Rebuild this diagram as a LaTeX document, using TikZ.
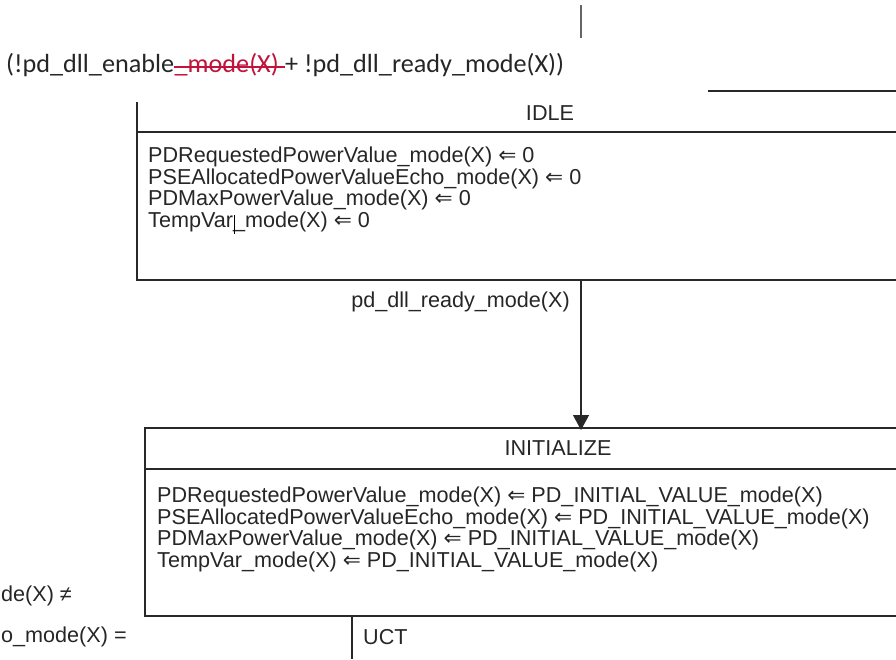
\documentclass[tikz,border=0pt]{standalone}
\usepackage{fontspec}
\setmainfont{Liberation Sans}
\newfontfamily\calibfont{Carlito}
\newfontfamily\arrowfont{DejaVu Sans}
\usetikzlibrary{arrows.meta}

\definecolor{strikered}{RGB}{192,20,60}
\definecolor{edgegray}{RGB}{40,40,40}
\newcommand{\getsfrom}{{\arrowfont ⇐}}

\begin{document}
\begin{tikzpicture}[x=1pt, y=-1pt, >={Triangle[length=15pt,width=16pt]},
  every node/.style={inner sep=0pt, text=black!85, font=\fontsize{21.6}{21.5}\selectfont},
  edge/.style={draw=edgegray, line width=1.2pt},
  guardtext/.style={anchor=base west, font=\calibfont\fontsize{26.2}{28}\selectfont},
  title/.style={anchor=base},
  body/.style={anchor=north west, align=left},
  cond/.style={anchor=base east}]

\useasboundingbox (0,0) rectangle (896,659);

% Nodes
\node[guardtext] (guard-a) at (6,72) {(!pd\_dll\_enable};
\node[guardtext, text=strikered] (guard-b) at (guard-a.base east) {\_mode(X)\kern0.23em};
\node[guardtext] (guard-c) at (guard-b.base east) {+ !pd\_dll\_ready\_mode(X))};
\draw[strikered, line width=1.6pt] ([yshift=5pt]guard-b.base west) -- ([yshift=5pt]guard-b.base east);

\node[title] (idle) at (550,120.5) {IDLE};
\node[body] (idle-acts) at (148,147) {%
  PDRequestedPowerValue\_mode(X) \getsfrom{} 0\\
  PSEAllocatedPowerValueEcho\_mode(X) \getsfrom{} 0\\
  PDMaxPowerValue\_mode(X) \getsfrom{} 0\\
  TempVar\_mode(X) \getsfrom{} 0};
\draw[black, line width=0.8pt] (234,215) -- (234,234);

\node[cond] (ready) at (570,307.5) {pd\_dll\_ready\_mode(X)};

\node[title] (init) at (558,455.5) {INITIALIZE};
\node[body] (init-acts) at (157,487) {%
  PDRequestedPowerValue\_mode(X) \getsfrom{} PD\_INITIAL\_VALUE\_mode(X)\\
  PSEAllocatedPowerValueEcho\_mode(X) \getsfrom{} PD\_INITIAL\_VALUE\_mode(X)\\
  PDMaxPowerValue\_mode(X) \getsfrom{} PD\_INITIAL\_VALUE\_mode(X)\\
  TempVar\_mode(X) \getsfrom{} PD\_INITIAL\_VALUE\_mode(X)};

\node[anchor=base west] (uct) at (363,644) {UCT};
\node[anchor=base west] (neq-frag) at (1,601) {de(X) ≠};
\node[anchor=base west] (eq-frag) at (1,642) {o\_mode(X) =};

% Connector ends
\coordinate (mark-top) at (581,5);
\coordinate (mark-bot) at (581,38);
\coordinate (idle-exit) at (581,280);
\coordinate (init-entry) at (581,430);
\coordinate (init-exit) at (352,616);
\coordinate (uct-end) at (352,659);

% State boxes
\draw[edge] (708,91) -- (896,91);
\draw[edge] (137,102) -- (137,280) -- (896,280);
\draw[edge] (137,132) -- (896,132);
\draw[edge] (896,428) -- (145,428) -- (145,616) -- (896,616);
\draw[edge, line width=2.4pt] (145,469) -- (896,469);

% Transitions
\draw[edge, draw=black!60, line width=1.5pt] (mark-top) -- (mark-bot);
\draw[edge, ->] (idle-exit) -- (init-entry);
\draw[edge] (init-exit) -- (uct-end);

\end{tikzpicture}
\end{document}
